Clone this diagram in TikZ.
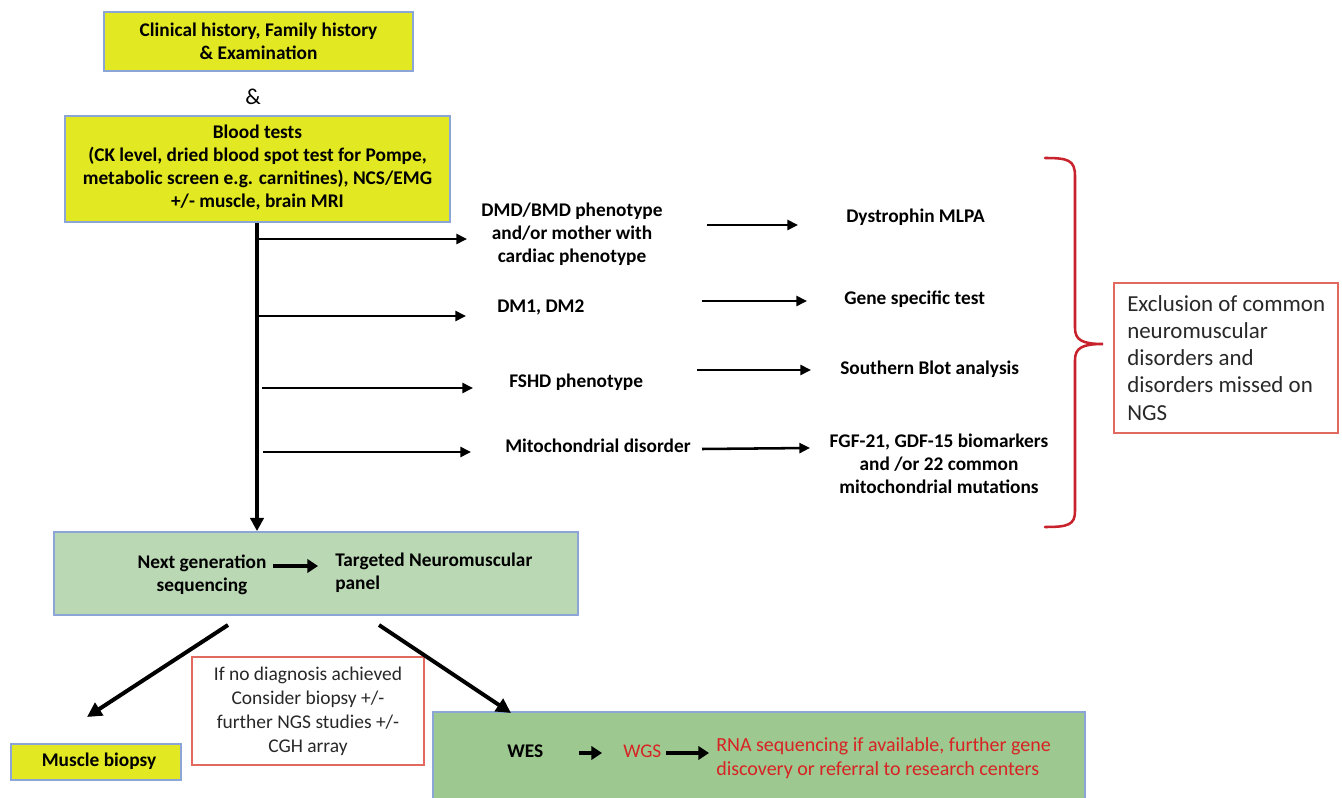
\documentclass[tikz,border=0pt]{standalone}
\usepackage{fontspec}
\setmainfont{Carlito}
\usetikzlibrary{arrows.meta,fit}
\definecolor{ybox}{RGB}{226,232,34}
\definecolor{bborder}{RGB}{140,165,215}
\definecolor{gbox}{RGB}{186,216,180}
\definecolor{gboxdark}{RGB}{157,200,143}
\definecolor{rbrace}{RGB}{200,35,45}
\definecolor{rbox}{RGB}{225,105,95}
\definecolor{rtext}{RGB}{215,35,35}
\definecolor{dgrey}{RGB}{40,40,40}
\begin{document}
\begin{tikzpicture}[x=0.75pt,y=-0.75pt,
  boxb/.style={draw=bborder, line width=1.3pt, inner sep=0pt},
  ybx/.style={boxb, fill=ybox},
  rbx/.style={draw=rbox, line width=1pt, inner sep=0pt, fill=white},
  txt/.style={font=\bfseries\fontsize{14.5}{17.25}\selectfont, align=center, inner sep=0pt},
  one/.style={txt, text height=0.65em, text depth=0pt},
  reg/.style={font=\fontsize{14.6}{18}\selectfont, align=center, inner sep=0pt},
  arr/.style={line width=1.9pt, -{Triangle[length=8pt,width=7.5pt]}},
  marr/.style={line width=2.6pt, -{Triangle[length=10pt,width=10pt]}},
  darr/.style={line width=3pt, -{Triangle[length=11pt,width=11pt]}},
  tarr/.style={line width=3.6pt, -{Triangle[length=8pt,width=10pt]}}
]
\useasboundingbox (0,0) rectangle (1342,798);

% top boxes
\node[ybx, fit={(104,12) (413,71)}] (clinbox) {};
\node[txt] (clin) at (clinbox.center) {Clinical history, Family history\\ \& Examination};
\node[font=\fontsize{17}{20}\selectfont, inner sep=0pt, text height=0.65em, text depth=0pt] (amp) at (253,100) {\&};
\node[ybx, fit={(65,116) (450,222)}] (blood) {};
\node[txt] (bloodtxt) at (257.5,167.5) {Blood tests\\ (CK level, dried blood spot test for Pompe,\\ metabolic screen e.g. carnitines), NCS/EMG\\ +/- muscle, brain MRI};

% NGS box
\node[boxb, fill=gbox, fit={(54,532) (578,615)}] (ngs) {};
\node[txt] (ngsa) at (202,575) {Next generation\\ sequencing};
\node[txt, align=left, anchor=west] (ngsb) at (335,573) {Targeted Neuromuscular\\ panel};

% left column texts
\node[txt] (dmd) at (572,234) {DMD/BMD phenotype\\ and/or mother with\\ cardiac phenotype};
\node[one, anchor=west] (dm) at (497,308) {DM1, DM2};
\node[one, anchor=west] (fshd) at (509,383) {FSHD phenotype};
\node[one, anchor=west] (mito) at (505,448) {Mitochondrial disorder};

% right column texts
\node[one, anchor=west] (mlpa) at (846,218) {Dystrophin MLPA};
\node[one, anchor=west] (gene) at (844,300) {Gene specific test};
\node[one, anchor=west] (sb) at (840,370) {Southern Blot analysis};
\node[txt] (fgf) at (939,464) {FGF-21, GDF-15 biomarkers\\ and /or 22 common\\ mitochondrial mutations};

% exclusion box
\node[rbx, fit={(1114,283) (1338,433)}] (exbox) {};
\node[font=\fontsize{17.2}{20.3}\selectfont, align=left, inner sep=0pt, anchor=west, text=dgrey] (excl) at (1127,358) {Exclusion of common\\ neuromuscular\\ disorders and\\ disorders missed on\\ NGS};

% brace
\coordinate (btop) at (1045,158);
\coordinate (bbot) at (1045,527);
\coordinate (btip) at (1103,344);
\draw[rbrace, line width=1.9pt, line cap=round]
  (btop) .. controls (1068,158) and (1075,160) .. (1075,176)
  -- (1075,328) .. controls (1075,340) and (1082,344) .. (btip)
  .. controls (1082,344) and (1075,348) .. (1075,360)
  -- (1075,511) .. controls (1075,525) and (1068,527) .. (bbot);

% bottom boxes
\node[rbx, fit={(192,657) (424,765)}] (nodiagbox) {};
\node[reg, text=dgrey] (nodiag) at (308,711) {If no diagnosis achieved\\ Consider biopsy +/-\\ further NGS studies +/-\\ CGH array};
\node[ybx, fit={(11,744) (181,780)}] (biopsybox) {};
\node[one] (biopsy) at (99,762) {Muscle biopsy};
\node[boxb, fill=gboxdark, fit={(433,712) (1085,805)}] (wesbox) {};
\node[one, anchor=west] (wes) at (507,753) {WES};
\node[one, anchor=west, font=\fontsize{14.5}{17.25}\selectfont, text=rtext] (wgs) at (623,753) {WGS};
\node[txt, align=left, anchor=west, font=\fontsize{15}{18}\selectfont, text=rtext] (rna) at (716,758) {RNA sequencing if available, further gene\\ discovery or referral to research centers};

% main vertical arrow and branches
\draw[marr] (blood.south -| 257,0) -- (ngs.north -| 257,0);
\coordinate (b1) at (467,239);
\coordinate (b2) at (466,316);
\coordinate (b3) at (473,388);
\coordinate (b4) at (471,452);
\draw[arr] (257,239) -- (b1);
\draw[arr] (257,316) -- (b2);
\draw[arr] (262,388) -- (b3);
\draw[arr] (263,452) -- (b4);

% middle arrows
\coordinate (m1a) at (707,225); \coordinate (m1b) at (798,225);
\coordinate (m2a) at (702,301); \coordinate (m2b) at (807,301);
\coordinate (m3a) at (697,370); \coordinate (m3b) at (811,370);
\coordinate (m4a) at (702,449); \coordinate (m4b) at (810,448);
\draw[arr] (m1a) -- (m1b);
\draw[arr] (m2a) -- (m2b);
\draw[arr] (m3a) -- (m3b);
\draw[arr] (m4a) -- (m4b);

% inside NGS box
\coordinate (n1) at (273,566); \coordinate (n2) at (318,566);
\draw[tarr] (n1) -- (n2);

% diagonal arrows
\coordinate (d1a) at (228,625); \coordinate (d1b) at (87,717);
\coordinate (d2a) at (379,625); \coordinate (d2b) at (511,713);
\draw[darr] (d1a) -- (d1b);
\draw[darr] (d2a) -- (d2b);

% inside WES box
\coordinate (w1) at (579,753); \coordinate (w2) at (602,753);
\coordinate (w3) at (666,753); \coordinate (w4) at (709,753);
\draw[tarr] (w1) -- (w2);
\draw[tarr] (w3) -- (w4);
\end{tikzpicture}
\end{document}
